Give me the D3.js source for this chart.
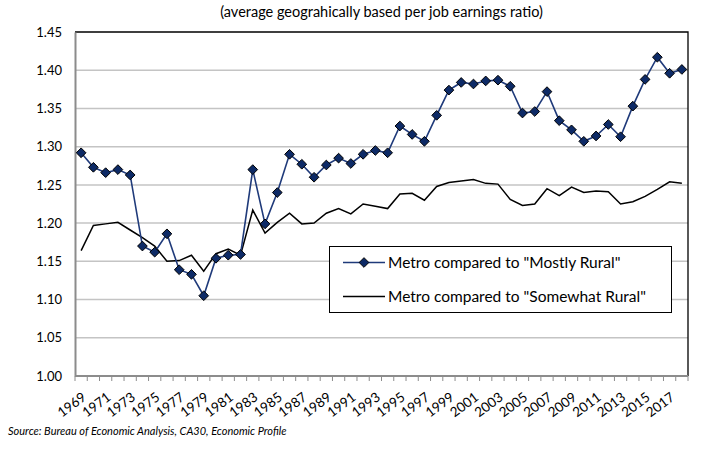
<!DOCTYPE html>
<html>
<head>
<meta charset="utf-8">
<script src="https://cdn.jsdelivr.net/npm/d3@7"></script>
<style>
  body { margin: 0; background: #fff; }
  svg { display: block; font-family: Lato, "Open Sans", sans-serif; }
</style>
</head>
<body>
<svg id="chart" width="710" height="457"></svg>
<script>
// datos
const years = d3.range(1969, 2019);
const mostlyRural = [
  1.292, 1.273, 1.266, 1.270, 1.263, 1.170, 1.162, 1.186, 1.139, 1.133,
  1.105, 1.154, 1.158, 1.159, 1.270, 1.199, 1.240, 1.290, 1.277, 1.260,
  1.276, 1.285, 1.278, 1.290, 1.295, 1.292, 1.327, 1.316, 1.307, 1.341,
  1.374, 1.384, 1.382, 1.386, 1.387, 1.379, 1.344, 1.346, 1.372, 1.334,
  1.322, 1.307, 1.314, 1.329, 1.313, 1.353, 1.388, 1.417, 1.396, 1.401
];
const somewhatRural = [
  1.164, 1.197, 1.199, 1.201, 1.191, 1.181, 1.170, 1.150, 1.151, 1.158,
  1.137, 1.160, 1.166, 1.158, 1.217, 1.187, 1.201, 1.213, 1.199, 1.200,
  1.213, 1.219, 1.212, 1.225, 1.222, 1.219, 1.238, 1.239, 1.230, 1.248,
  1.253, 1.255, 1.257, 1.252, 1.251, 1.231, 1.223, 1.225, 1.245, 1.236,
  1.247, 1.240, 1.242, 1.241, 1.225, 1.228, 1.235, 1.244, 1.254, 1.252
];
const yTicks = [1.00, 1.05, 1.10, 1.15, 1.20, 1.25, 1.30, 1.35, 1.40, 1.45];
const seriesNames = ['Metro compared to "Mostly Rural"', 'Metro compared to "Somewhat Rural"'];
const title = "(average geograhically based per job earnings ratio)";
const source = "Source: Bureau of Economic Analysis, CA30, Economic Profile";

const svg = d3.select("#chart");
const m = { left: 75, right: 688, top: 32, bottom: 376 };

const x = d3.scaleBand().domain(years).range([m.left, m.right]);
const y = d3.scaleLinear().domain([1.0, 1.45]).range([m.bottom, m.top]);
const cx = d => x(d) + x.bandwidth() / 2;

// título
svg.append("text")
  .attr("x", (m.left + m.right) / 2).attr("y", 17)
  .attr("text-anchor", "middle")
  .attr("font-size", 14.5).attr("fill", "#000")
  .text(title);

// rejilla
svg.append("g").selectAll("line")
  .data(yTicks.slice(1, -1))
  .enter().append("line")
    .attr("x1", m.left).attr("x2", m.right)
    .attr("y1", d => y(d)).attr("y2", d => y(d))
    .attr("stroke", "#c4c4c4").attr("stroke-width", 1.5);

// borde superior y derecho
svg.append("path")
  .attr("d", `M${m.left},${m.top}H${m.right}V${m.bottom}`)
  .attr("fill", "none").attr("stroke", "#000").attr("stroke-width", 1.3);

// eje Y
const yAxis = svg.append("g")
  .attr("transform", `translate(${m.left},0)`)
  .call(d3.axisLeft(y).tickValues(yTicks).tickFormat(d3.format(".2f")).tickSize(0).tickPadding(13));
yAxis.select(".domain").attr("stroke", "#8c8c8c").attr("stroke-width", 2);
yAxis.selectAll("text").attr("font-size", 13).attr("fill", "#000").attr("font-family", "Lato, sans-serif");

// eje X (marcas entre categorías)
const xg = svg.append("g");
xg.append("line")
  .attr("x1", m.left).attr("x2", m.right)
  .attr("y1", m.bottom).attr("y2", m.bottom)
  .attr("stroke", "#8c8c8c").attr("stroke-width", 2);
xg.selectAll(".tk")
  .data(years.concat([years[years.length - 1] + 1]))
  .enter().append("line")
    .attr("x1", (d, i) => m.left + i * x.bandwidth())
    .attr("x2", (d, i) => m.left + i * x.bandwidth())
    .attr("y1", m.bottom).attr("y2", m.bottom + 5)
    .attr("stroke", "#8c8c8c").attr("stroke-width", 1);
xg.selectAll(".lbl")
  .data(years.filter((d, i) => i % 2 === 0))
  .enter().append("text")
    .attr("text-anchor", "end")
    .attr("font-size", 13.5)
    .attr("transform", d => `translate(${cx(d) + 6},${m.bottom + 23}) rotate(-37)`)
    .text(d => d);

// serie "Somewhat Rural"
const line = d3.line().x((d, i) => cx(years[i])).y(d => y(d));
svg.append("path")
  .datum(somewhatRural)
  .attr("d", line)
  .attr("fill", "none").attr("stroke", "#000").attr("stroke-width", 1.5);

// serie "Mostly Rural"
const navy = "#1f3a7a";
svg.append("path")
  .datum(mostlyRural)
  .attr("d", line)
  .attr("fill", "none").attr("stroke", navy).attr("stroke-width", 1.6);

const diamond = d3.symbol().type(d3.symbolDiamond2).size(60);
svg.append("g").selectAll("path")
  .data(mostlyRural)
  .enter().append("path")
    .attr("d", diamond)
    .attr("transform", (d, i) => `translate(${cx(years[i])},${y(d)})`)
    .attr("fill", "#0d2a66").attr("stroke", "#000").attr("stroke-width", 1);

// leyenda
const lg = svg.append("g");
lg.append("rect")
  .attr("x", 329.5).attr("y", 246.5).attr("width", 342).attr("height", 66)
  .attr("fill", "#fff").attr("stroke", "#000").attr("stroke-width", 1);
const rows = [262.5, 296.5];
lg.append("line").attr("x1", 343).attr("x2", 385).attr("y1", rows[0]).attr("y2", rows[0])
  .attr("stroke", navy).attr("stroke-width", 1.6);
lg.append("path").attr("d", diamond).attr("transform", `translate(364,${rows[0]})`)
  .attr("fill", "#0d2a66").attr("stroke", "#000");
lg.append("line").attr("x1", 343).attr("x2", 385).attr("y1", rows[1]).attr("y2", rows[1])
  .attr("stroke", "#000").attr("stroke-width", 1.5);
lg.selectAll("text")
  .data(seriesNames)
  .enter().append("text")
    .attr("x", 388).attr("y", (d, i) => rows[i] + 5.5)
    .attr("font-size", 15.5)
    .text(d => d);

// fuente
svg.append("text")
  .attr("x", 8).attr("y", 435)
  .attr("font-size", 11).attr("font-style", "italic")
  .text(source);
</script>
</body>
</html>
